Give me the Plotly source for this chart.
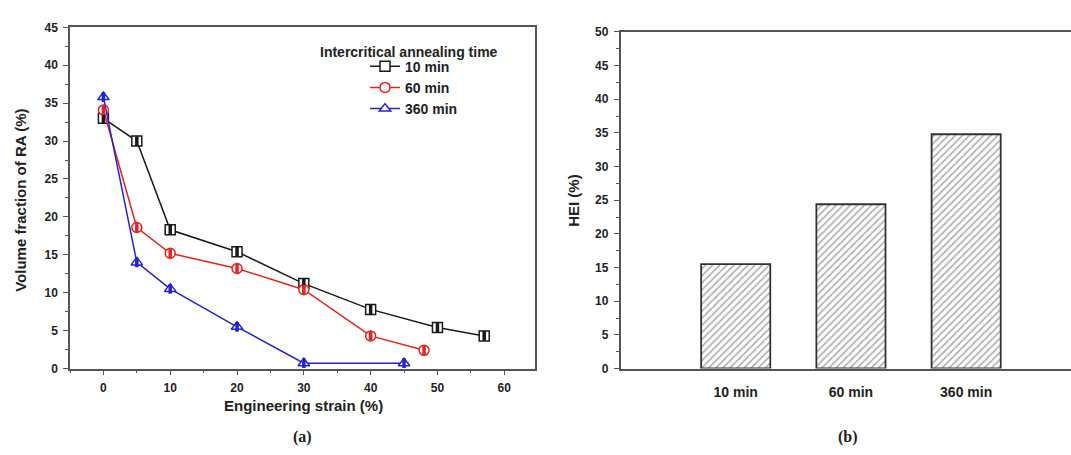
import plotly.graph_objects as go

W, H = 1071, 455

# ---- data: panel (a) ----
strain_10 = [0, 5, 10, 20, 30, 40, 50, 57]
ra_10 = [33.0, 30.0, 18.3, 15.4, 11.2, 7.8, 5.4, 4.3]
strain_60 = [0, 5, 10, 20, 30, 40, 48]
ra_60 = [34.1, 18.6, 15.2, 13.2, 10.4, 4.3, 2.4]
strain_360 = [0, 5, 10, 20, 30, 45]
ra_360 = [35.8, 14.0, 10.5, 5.5, 0.7, 0.7]
series_names = ["10 min", "60 min", "360 min"]

# ---- data: panel (b) ----
bar_categories = ["10 min", "60 min", "360 min"]
hei_values = [15.5, 24.4, 34.8]

FONT = "Liberation Sans"
TXT = "#222222"
AX = "#555555"

fig = go.Figure()

series = [
    (strain_10, ra_10, "#1a1a1a", "square", series_names[0]),
    (strain_60, ra_60, "#e8231e", "circle", series_names[1]),
    (strain_360, ra_360, "#2323d6", "triangle-up", series_names[2]),
]
for xs, ys, col, sym, name in series:
    fig.add_trace(go.Scatter(
        x=xs, y=ys, mode="lines+markers", name=name,
        line=dict(color=col, width=1.5),
        marker=dict(symbol=sym, size=10, color="white",
                    line=dict(color=col, width=1.5)),
        xaxis="x", yaxis="y",
    ))
for xs, ys, col, sym, name in series:
    fig.add_trace(go.Scatter(
        x=xs, y=ys, mode="markers", showlegend=False, hoverinfo="skip",
        marker=dict(symbol="line-ns-open", size=7, color=col,
                    line=dict(color=col, width=3.5)),
        xaxis="x", yaxis="y",
    ))

fig.add_trace(go.Bar(
    x=bar_categories, y=hei_values, width=0.6, showlegend=False,
    marker=dict(color="white", line=dict(color="#333333", width=1.8),
                pattern=dict(shape="/", fgcolor="#555555", bgcolor="white",
                             size=5, solidity=0.3)),
    xaxis="x2", yaxis="y2",
))

tickfont = dict(family=FONT, size=12, color=TXT, weight="bold")

y_bot = (H - 373) / H
fig.update_layout(
    width=W, height=H, margin=dict(l=0, r=0, t=0, b=0),
    paper_bgcolor="white", plot_bgcolor="white",
    showlegend=True,
    legend=dict(x=365 / W, y=(H - 45) / H, xanchor="left", yanchor="top",
                bgcolor="rgba(0,0,0,0)", tracegroupgap=0,
                font=dict(family=FONT, size=14, color=TXT, weight="bold")),
    xaxis=dict(domain=[70 / W, 535 / W], range=[-5, 64.6], anchor="y",
               showline=True, linecolor=AX, linewidth=1.5, mirror=True,
               showgrid=False, zeroline=False,
               ticks="outside", ticklen=5, tickwidth=1.2, tickcolor=AX,
               dtick=10, tick0=0, tickfont=tickfont, ticklabelstandoff=2,
               minor=dict(ticks="outside", ticklen=3, dtick=5, tick0=0,
                          tickcolor=AX, tickwidth=1.2)),
    yaxis=dict(domain=[y_bot, (H - 21) / H], range=[0, 45], anchor="x",
               showline=True, linecolor=AX, linewidth=1.5, mirror=True,
               showgrid=False, zeroline=False,
               ticks="outside", ticklen=5, tickwidth=1.2, tickcolor=AX,
               dtick=5, tick0=0, tickfont=tickfont, ticklabelstandoff=3,
               minor=dict(ticks="outside", ticklen=3, dtick=2.5, tick0=0,
                          tickcolor=AX, tickwidth=1.2)),
    xaxis2=dict(domain=[620.5 / W, 1], range=[-1, 2.91], anchor="y2",
                showline=True, linecolor=AX, linewidth=1.5, mirror=True,
                showgrid=False, zeroline=False, ticks="",
                tickfont=dict(family=FONT, size=14, color=TXT, weight="bold"),
                ticklabelstandoff=10),
    yaxis2=dict(domain=[y_bot, (H - 25.7) / H], range=[0, 50], anchor="x2",
                showline=True, linecolor=AX, linewidth=1.5, mirror=False,
                showgrid=False, zeroline=False,
                ticks="outside", ticklen=5, tickwidth=1.2, tickcolor=AX,
                dtick=5, tick0=0, tickfont=tickfont, ticklabelstandoff=3,
                minor=dict(ticks="outside", ticklen=3, dtick=2.5, tick0=0,
                           tickcolor=AX, tickwidth=1.2)),
)

def ann(text, x, y, size, angle=0, family=FONT):
    fig.add_annotation(text=text, x=x / W, y=(H - y) / H, xref="paper",
                       yref="paper", showarrow=False, textangle=angle,
                       xanchor="center", yanchor="middle",
                       font=dict(family=family, size=size, color=TXT,
                                 weight="bold"))

ann("Intercritical annealing time", 409, 46, 14)
ann("Engineering strain (%)", 303, 411, 15)
ann("Volume fraction of RA (%)", 21, 200, 15, -90)
ann("HEI (%)", 574, 200, 15, -90)
ann("(a)", 302, 444, 16, family="Liberation Serif")
ann("(b)", 848, 444, 16, family="Liberation Serif")

fig.write_html("out.html")
